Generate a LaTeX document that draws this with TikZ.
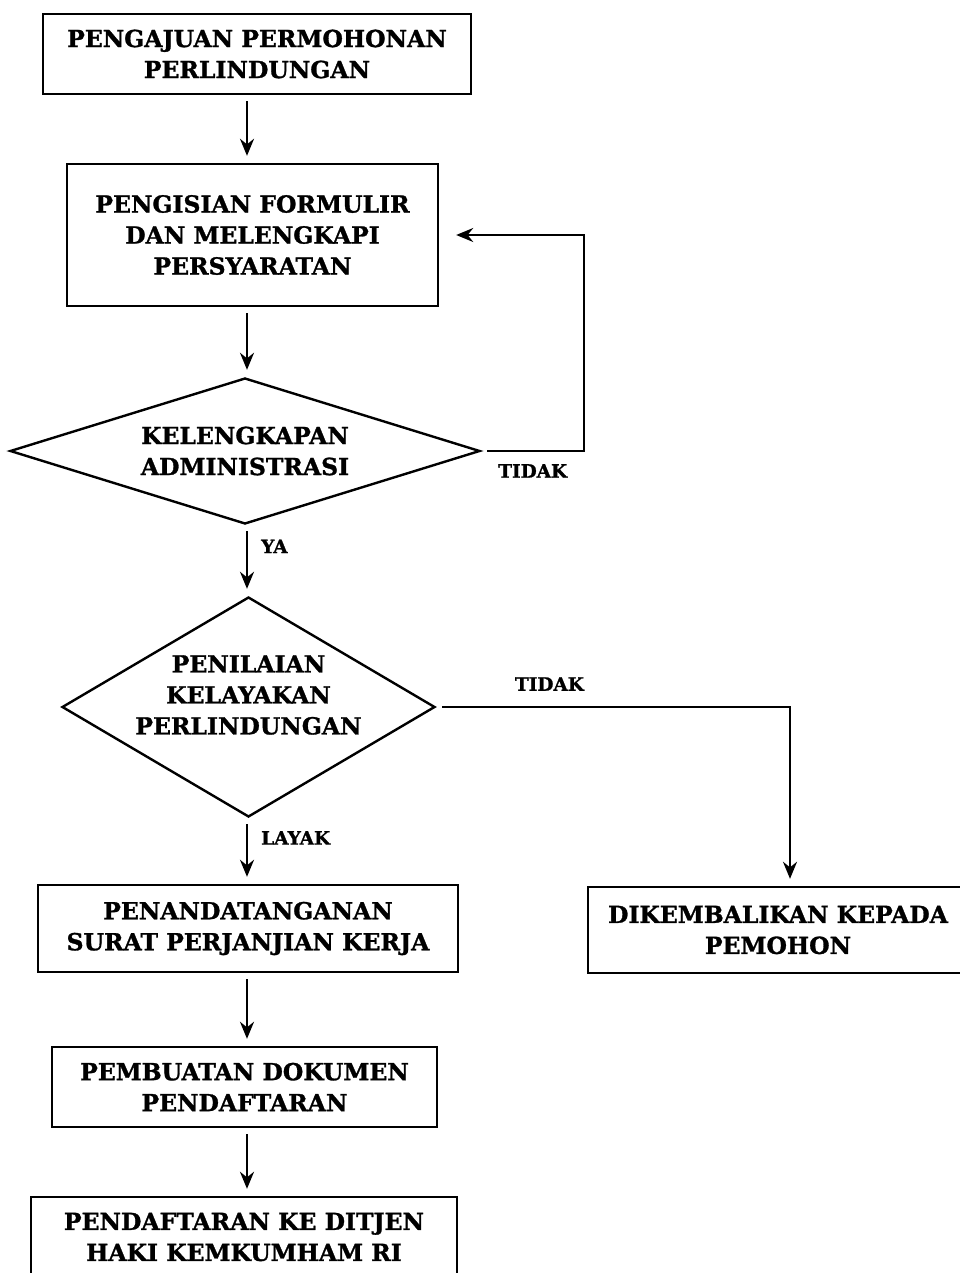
\documentclass[tikz,border=0pt]{standalone}
\usepackage{fontspec}
\setmainfont{DejaVu Serif}[BoldFeatures={FakeBold=1.2}]
\usetikzlibrary{shapes.geometric,arrows.meta,positioning}

\tikzset{
  kotak/.style={draw, line width=2.4pt, align=center, inner sep=0pt,
    font=\bfseries\fontsize{23.5}{31}\selectfont},
  belah/.style={draw, diamond, line width=2.4pt, inner sep=0pt},
  teks/.style={align=center, inner sep=0pt, font=\bfseries\fontsize{23.5}{31}\selectfont},
  panah/.style={-{Stealth[length=17pt,width=14pt]}, line width=2.4pt,
    shorten <=6pt, shorten >=7pt},
  ket/.style={font=\bfseries\fontsize{18.5}{20}\selectfont, inner sep=0pt}
}

\begin{document}
\begin{tikzpicture}[x=1pt,y=-1pt]
  \useasboundingbox (0,0) rectangle (960,1273);
  \coordinate (sumbu) at (247,0);

  % kotak dan belah ketupat
  \node[kotak, minimum width=428, minimum height=80] (ajuan) at (257,54)
    {PENGAJUAN PERMOHONAN\\PERLINDUNGAN};
  \node[kotak, minimum width=371, minimum height=142] (isi) at (252.5,235)
    {PENGISIAN FORMULIR\\DAN MELENGKAPI\\PERSYARATAN};
  \node[belah, minimum width=470, minimum height=146] (admin) at (245,451) {};
  \node[teks] (adminteks) at (admin.center) {KELENGKAPAN\\ADMINISTRASI};
  \node[belah, minimum width=373, minimum height=220] (nilai) at (248.5,707) {};
  \node[teks] (nilaiteks) at ([yshift=12pt]nilai.center) {PENILAIAN\\KELAYAKAN\\PERLINDUNGAN};
  \node[kotak, minimum width=420, minimum height=87] (tanda) at (248,928.5)
    {PENANDATANGANAN\\SURAT PERJANJIAN KERJA};
  \node[kotak, minimum width=380, minimum height=86] (kembali) at (778,930)
    {DIKEMBALIKAN KEPADA\\PEMOHON};
  \node[kotak, minimum width=385, minimum height=80] (dokumen) at (244.5,1087)
    {PEMBUATAN DOKUMEN\\PENDAFTARAN};
  \node[kotak, minimum width=426, minimum height=80] (daftar) at (244,1237)
    {PENDAFTARAN KE DITJEN\\HAKI KEMKUMHAM RI};

  % panah
  \draw[panah] (ajuan.south -| sumbu) -- (isi.north -| sumbu);
  \draw[panah] (isi.south -| sumbu) -- (admin.north -| sumbu);
  \draw[panah, shorten >=17pt] (admin.east) -- node[ket, below=12pt] (tidaka) {TIDAK} ++(103,0) |- (isi.east);
  \draw[panah] (admin.south -| sumbu) -- node[ket, pos=0.3, right=13pt] (ya) {YA} (nilai.north -| sumbu);
  \draw[panah] (nilai.east) -| node[ket, pos=0.16, above=15pt] (tidakb) {TIDAK} ([xshift=12pt]kembali.north);
  \draw[panah] (nilai.south -| sumbu) -- node[ket, pos=0.3, right=13pt] (layak) {LAYAK} (tanda.north -| sumbu);
  \draw[panah] (tanda.south -| sumbu) -- (dokumen.north -| sumbu);
  \draw[panah] (dokumen.south -| sumbu) -- (daftar.north -| sumbu);
\end{tikzpicture}
\end{document}
